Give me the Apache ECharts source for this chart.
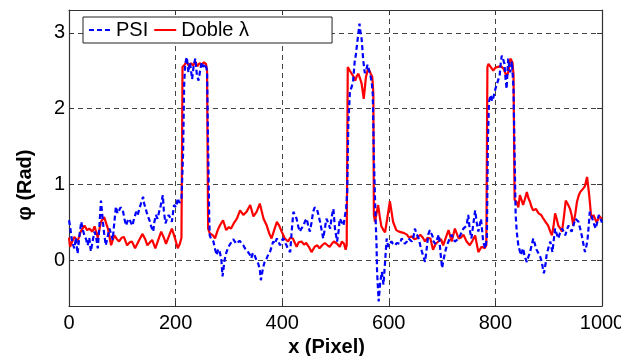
<!DOCTYPE html>
<html>
<head>
<meta charset="utf-8">
<script src="https://cdn.jsdelivr.net/npm/echarts@6/dist/echarts.min.js"></script>
<style>
  html, body { margin: 0; padding: 0; background: #fff; }
  #chart { width: 621px; height: 356px; }
</style>
</head>
<body>
<div id="chart"></div>
<script>
// Phase profile along a detector line: PSI vs. two-wavelength (Doble λ) retrieval
const xTicks = [0, 200, 400, 600, 800, 1000];
const yTicks = [0, 1, 2, 3];

// PSI phase, [pixel, rad]
const psiX = [0,2,5,8,10,13,16,20,23,26,29,32,35,38,41,45,48,51,54,57,60,63,66,69,72,76,79,82,85,88,91,94,97,101,104,107,110,113,116,119,122,126,129,132,135,139,141,144,147,151,154,158,160,163,166,169,172,176,178,181,184,187,190,193,195,197,201,204,207,211,214,216,218,221,224,227,231,234,237,240,243,246,249,252,256,259,261,263,264,267,271,274,277,280,283,286,288,290,292,295,298,301,304,308,311,314,317,320,323,327,330,333,336,339,342,345,348,352,355,358,360,362,364,367,371,374,377,380,383,386,390,393,396,399,402,405,408,411,415,418,421,424,427,430,433,436,440,443,446,449,452,455,458,461,465,468,471,474,477,480,483,486,490,493,496,499,503,506,508,512,515,518,520,522,524,527,530,533,536,538,540,543,545,547,549,552,555,558,560,563,565,568,570,572,575,577,578,581,584,587,590,593,596,599,602,605,608,612,615,618,621,624,627,630,634,637,640,643,646,649,652,656,659,662,665,668,671,674,677,679,682,684,687,690,694,697,700,703,706,709,712,715,718,721,724,728,731,734,737,740,743,746,749,752,755,758,762,765,768,771,773,775,777,779,781,784,786,788,791,794,796,800,804,808,810,812,815,817,819,821,824,826,828,831,834,836,838,840,843,846,848,850,852,855,859,862,865,868,871,874,876,878,881,884,887,889,891,894,896,900,903,905,907,910,912,915,918,921,925,928,931,934,937,940,943,946,950,953,956,959,962,965,968,971,973,975,977,980,982,985,988,991,994,997,1000];
const psiY = [0.53,0.45,0.29,0.20,0.16,0.30,0.09,0.35,0.51,0.40,0.33,0.28,0.20,0.30,0.12,0.28,0.38,0.30,0.16,0.45,0.79,0.55,0.35,0.20,0.30,0.42,0.35,0.27,0.50,0.71,0.62,0.60,0.70,0.66,0.55,0.46,0.52,0.55,0.50,0.46,0.55,0.64,0.60,0.68,0.75,0.84,0.75,0.68,0.60,0.53,0.45,0.38,0.50,0.60,0.55,0.64,0.72,0.86,0.65,0.49,0.55,0.60,0.56,0.51,0.62,0.73,0.70,0.82,0.76,0.80,1.40,2.30,2.59,2.68,2.48,2.61,2.39,2.57,2.66,2.44,2.37,2.50,2.61,2.55,2.59,2.50,1.50,0.60,0.33,0.28,0.25,0.15,0.07,0.15,0.11,0.00,-0.21,-0.10,0.01,0.10,0.16,0.20,0.22,0.28,0.29,0.22,0.20,0.26,0.25,0.20,0.16,0.15,0.11,0.08,0.03,0.10,0.07,0.00,-0.04,-0.12,-0.26,-0.18,-0.10,-0.02,0.03,0.08,0.11,0.18,0.25,0.22,0.29,0.25,0.20,0.26,0.29,0.24,0.20,0.15,0.11,0.40,0.64,0.60,0.55,0.45,0.38,0.42,0.46,0.52,0.55,0.45,0.38,0.50,0.64,0.70,0.68,0.60,0.51,0.40,0.29,0.42,0.55,0.50,0.42,0.58,0.68,0.42,0.25,0.40,0.55,0.50,0.46,0.60,0.68,0.90,1.80,2.22,2.28,2.36,2.62,2.70,2.82,3.00,3.12,3.00,2.92,2.64,2.47,2.52,2.58,2.50,2.45,2.35,2.18,1.35,0.60,0.20,-0.15,-0.54,-0.28,-0.15,-0.32,-0.02,0.29,0.18,0.22,0.25,0.22,0.20,0.23,0.25,0.22,0.29,0.26,0.22,0.25,0.29,0.27,0.25,0.30,0.42,0.35,0.29,0.20,0.12,0.05,-0.02,0.15,0.34,0.40,0.42,0.32,0.25,0.22,0.20,0.34,0.10,-0.10,0.02,0.12,0.20,0.25,0.30,0.34,0.28,0.25,0.27,0.29,0.33,0.38,0.42,0.40,0.46,0.60,0.40,0.29,0.45,0.66,0.50,0.38,0.48,0.55,0.40,0.25,0.20,0.16,0.30,1.60,2.09,2.18,2.10,2.14,2.26,2.35,2.44,2.60,2.70,2.64,2.59,2.40,2.26,2.66,2.55,2.48,2.62,2.26,1.40,0.60,0.38,0.20,0.12,0.07,0.12,0.16,0.05,-0.02,0.05,0.11,0.20,0.29,0.22,0.16,0.13,0.11,0.05,-0.02,-0.10,-0.17,-0.05,0.07,0.18,0.25,0.18,0.11,0.30,0.42,0.35,0.29,0.36,0.42,0.38,0.33,0.40,0.46,0.42,0.38,0.45,0.55,0.53,0.51,0.42,0.33,0.22,0.11,0.20,0.29,0.45,0.64,0.60,0.55,0.48,0.42,0.50,0.60,0.55,0.50];

// Two-wavelength phase, [pixel, rad]
const dobleX = [0,2,6,10,16,22,29,34,38,44,48,54,60,66,73,79,85,90,94,99,103,109,114,118,124,131,138,143,147,152,156,162,168,173,178,182,188,193,199,204,208,211,213,217,221,225,229,233,237,241,245,249,253,257,259,261,264,267,270,274,279,283,289,295,300,304,310,315,321,327,333,340,346,352,358,365,371,376,380,385,390,395,399,405,411,415,420,427,431,436,441,445,450,455,461,466,470,475,480,485,489,493,497,503,508,512,516,519,521,523,527,530,534,537,540,543,546,549,553,557,560,562,566,569,571,572,574,577,580,583,586,590,593,597,602,605,608,614,619,624,629,634,638,643,648,652,659,664,668,673,678,683,688,693,698,702,707,712,718,724,731,735,740,746,752,757,762,768,774,780,783,785,787,791,796,800,805,810,815,818,821,825,828,832,834,836,840,843,846,849,852,855,859,862,865,868,871,876,881,886,890,895,899,903,906,909,912,915,918,922,925,929,932,936,940,943,946,950,953,956,959,962,965,968,972,976,980,984,987,990,995,1000];
const dobleY = [0.30,0.18,0.25,0.31,0.25,0.38,0.46,0.40,0.42,0.38,0.45,0.30,0.51,0.57,0.42,0.20,0.33,0.28,0.25,0.30,0.31,0.20,0.24,0.25,0.16,0.26,0.35,0.28,0.20,0.24,0.27,0.16,0.28,0.38,0.30,0.22,0.33,0.42,0.29,0.16,0.22,0.30,2.55,2.58,2.62,2.56,2.60,2.57,2.62,2.56,2.60,2.58,2.61,2.59,2.50,0.42,0.36,0.38,0.33,0.29,0.40,0.46,0.53,0.40,0.44,0.42,0.50,0.55,0.66,0.60,0.64,0.73,0.58,0.64,0.75,0.55,0.46,0.35,0.29,0.40,0.51,0.45,0.38,0.29,0.25,0.30,0.29,0.18,0.24,0.25,0.21,0.23,0.18,0.11,0.18,0.20,0.16,0.20,0.23,0.20,0.18,0.22,0.25,0.22,0.18,0.25,0.22,0.14,0.20,2.55,2.50,2.49,2.42,2.37,2.43,2.46,2.40,2.33,2.13,2.41,2.50,2.53,2.46,2.42,2.20,0.60,0.51,0.62,0.73,0.58,0.45,0.40,0.37,0.55,0.78,0.65,0.51,0.40,0.38,0.37,0.36,0.34,0.30,0.32,0.28,0.29,0.34,0.30,0.25,0.30,0.29,0.14,0.22,0.25,0.28,0.20,0.30,0.40,0.25,0.42,0.29,0.30,0.34,0.25,0.20,0.26,0.33,0.11,0.18,0.16,0.20,2.55,2.59,2.55,2.50,2.54,2.55,2.56,2.53,2.48,2.42,2.50,2.66,2.61,2.45,0.80,0.77,0.70,0.86,0.80,0.73,0.80,0.90,0.82,0.77,0.70,0.66,0.68,0.62,0.60,0.55,0.50,0.46,0.38,0.33,0.45,0.62,0.55,0.46,0.42,0.38,0.60,0.79,0.74,0.68,0.60,0.46,0.62,0.77,0.85,0.90,0.88,0.95,0.98,1.10,0.86,0.55,0.60,0.55,0.50,0.58,0.55];

const pairs = (xs, ys) => xs.map((x, i) => [x, ys[i]]);

const FONT = '"Liberation Sans", Arial, sans-serif';
const gridLine = { show: true, lineStyle: { color: '#444', width: 1, type: [5, 4] } };
const frameLine = { show: true, onZero: false, lineStyle: { color: '#333', width: 1.2 } };
const innerTick = { show: true, inside: true, length: 5, lineStyle: { color: '#333', width: 1 } };
const plainNumber = v => String(v);

const chart = echarts.init(document.getElementById('chart'), null, { renderer: 'canvas' });
chart.setOption({
  animation: false,
  backgroundColor: '#fff',
  grid: { left: 69, right: 19, top: 10, bottom: 50, containLabel: false, outerBoundsMode: 'none' },
  legend: {
    left: 83, top: 17,
    orient: 'horizontal',
    padding: [3, 83, 3, 5],
    itemGap: 5,
    itemWidth: 22, itemHeight: 14,
    itemStyle: { opacity: 0 },
    backgroundColor: '#fff',
    borderColor: '#222', borderWidth: 1, borderRadius: 0,
    textStyle: { fontFamily: FONT, fontSize: 20, color: '#000' },
    data: ['PSI', 'Doble λ']
  },
  xAxis: [{
    type: 'value', min: 0, max: 1000, interval: 200,
    axisLine: frameLine,
    axisTick: Object.assign({ customValues: xTicks }, innerTick),
    axisLabel: { customValues: xTicks, formatter: plainNumber, fontFamily: FONT, fontSize: 20, color: '#000', margin: 7 },
    splitLine: gridLine,
    name: 'x (Pixel)', nameLocation: 'middle', nameGap: 24,
    nameTextStyle: { fontFamily: FONT, fontSize: 20, fontWeight: 'bold', color: '#000', padding: [0, 18, 0, 0] }
  }, {
    type: 'value', min: 0, max: 1000, interval: 200, position: 'top',
    axisLine: frameLine, axisTick: innerTick,
    axisLabel: { show: false }, splitLine: { show: false }
  }],
  yAxis: [{
    type: 'value', min: -0.6, max: 3.3,
    axisLine: frameLine,
    axisTick: Object.assign({ customValues: yTicks }, innerTick),
    axisLabel: { customValues: yTicks, formatter: plainNumber, fontFamily: FONT, fontSize: 20, color: '#000', margin: 4 },
    splitLine: gridLine,
    name: 'φ (Rad)', nameLocation: 'middle', nameGap: 34, nameRotate: 90,
    nameTextStyle: { fontFamily: FONT, fontSize: 20, fontWeight: 'bold', color: '#000', padding: [0, 54, 0, 0] }
  }, {
    type: 'value', min: -0.6, max: 3.3, position: 'right',
    axisLine: frameLine,
    axisTick: Object.assign({ customValues: yTicks }, innerTick),
    axisLabel: { show: false }, splitLine: { show: false }
  }],
  series: [{
    name: 'PSI', type: 'line', xAxisIndex: 0, yAxisIndex: 0,
    data: pairs(psiX, psiY),
    symbol: 'none', z: 3,
    lineStyle: { color: '#0000ff', width: 2.2, type: [5, 3] },
    itemStyle: { color: '#0000ff' }
  }, {
    name: 'Doble λ', type: 'line', xAxisIndex: 0, yAxisIndex: 0,
    data: pairs(dobleX, dobleY),
    symbol: 'none', z: 2,
    lineStyle: { color: '#ff0000', width: 2.2, type: 'solid' },
    itemStyle: { color: '#ff0000' }
  }]
});
</script>
</body>
</html>
